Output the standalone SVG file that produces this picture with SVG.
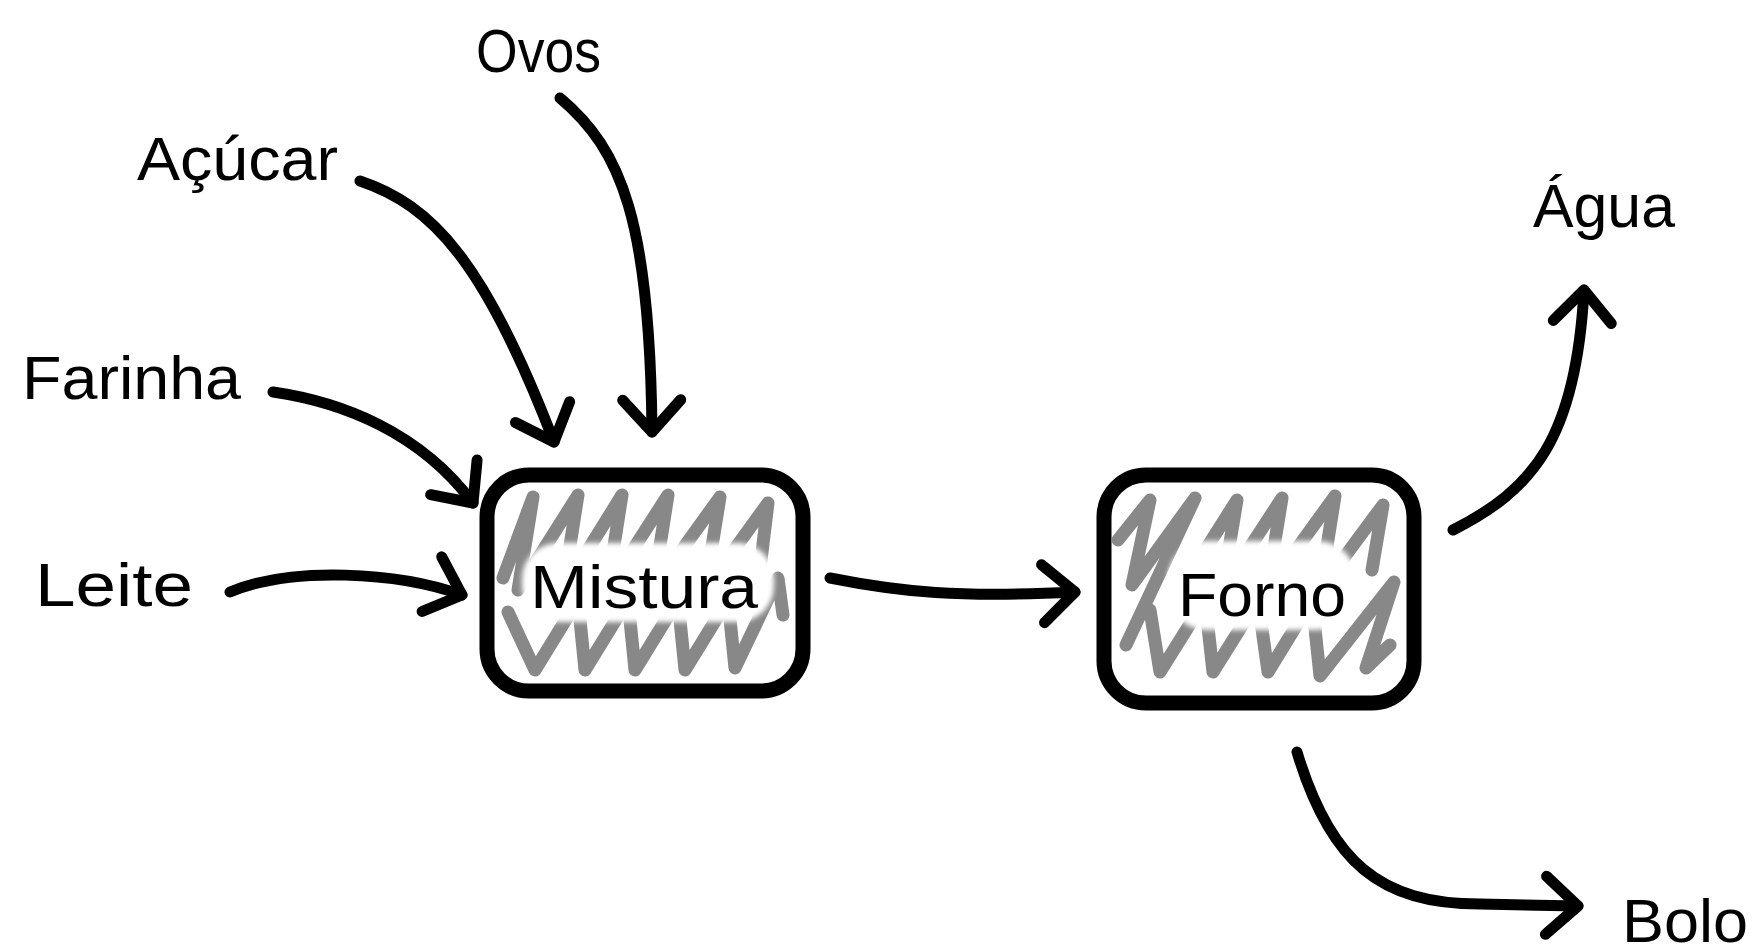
<svg xmlns="http://www.w3.org/2000/svg" width="1755" height="952" viewBox="0 0 1755 952">
<defs>
<style>
.lbl{font-family:"Liberation Sans",Arial,sans-serif;font-size:62px;fill:#000}
.box{fill:#fff;stroke:#000;stroke-width:15}
.hatch{fill:none;stroke:#888;stroke-width:13;stroke-linecap:round;stroke-linejoin:round}
.blob{fill:#fff;filter:url(#soft)}
.con{fill:none;stroke:#000;stroke-width:11;stroke-linecap:round;stroke-linejoin:round}
</style>
<filter id="soft" x="-10%" y="-20%" width="120%" height="140%"><feGaussianBlur stdDeviation="2.5"/></filter>
<marker id="ah" markerUnits="userSpaceOnUse" orient="auto" markerWidth="100" markerHeight="100" refX="0" refY="0" viewBox="-50 -50 100 100" overflow="visible">
<path d="M-32,-29 L0,0 L-32,29" fill="none" stroke="#000" stroke-width="11" stroke-linecap="round" stroke-linejoin="round"/>
</marker>
</defs>
<rect width="1755" height="952" fill="#fff"/>

<g id="connectors">
<path class="con" d="M560,98 C622,150 650,222 652,432" marker-end="url(#ah)"/>
<path class="con" d="M360,181 C432,205 485,262 554,442" marker-end="url(#ah)"/>
<path class="con" d="M273,392 C342,402 420,432 473,503" marker-end="url(#ah)"/>
<path class="con" d="M230,592 C292,566 398,572 462,595" marker-end="url(#ah)"/>
<path class="con" d="M830,578 C900,592 960,598 1075,592" marker-end="url(#ah)"/>
<path class="con" d="M1453,530 C1532,490 1576,440 1584,290" marker-end="url(#ah)"/>
<path class="con" d="M1297,752 C1330,862 1380,904 1480,904 L1578,906" marker-end="url(#ah)"/>
</g>

<g id="mistura">
<rect class="box" x="487" y="475" width="316" height="216" rx="42"/>
<path class="hatch" d="M503,578 L533,497 L518,590 L578,495 L563,590 L622,495 L607,590 L668,495 L653,590 L720,497 L705,590 L768,503 L758,585"/>
<path class="hatch" d="M508,612 L535,670 L578,600 L585,670 L628,600 L635,670 L678,600 L685,670 L728,600 L735,668 L778,578 L783,615"/>
<rect class="blob" x="522" y="543" width="252" height="79" rx="36"/>
<text class="lbl" x="530" y="608" textLength="228" lengthAdjust="spacingAndGlyphs">Mistura</text>
</g>

<g id="forno">
<rect class="box" x="1104" y="475" width="310" height="228" rx="42"/>
<path class="hatch" d="M1118,540 L1150,500 L1132,585 L1195,498 L1126,645"/>
<path class="hatch" d="M1180,590 L1237,500 L1222,590 L1282,498 L1267,590 L1335,496 L1320,590 L1383,505 L1372,570"/>
<path class="hatch" d="M1150,610 L1160,672 L1205,600 L1213,672 L1258,600 L1268,672 L1312,600 L1320,676 L1394,582 L1366,668 L1390,645"/>
<rect class="blob" x="1168" y="541" width="188" height="89" rx="38"/>
<text class="lbl" x="1178" y="616" textLength="168" lengthAdjust="spacingAndGlyphs">Forno</text>
</g>

<g id="ovos"><text class="lbl" x="476" y="72" textLength="125" lengthAdjust="spacingAndGlyphs">Ovos</text></g>
<g id="acucar"><text class="lbl" x="137" y="180" textLength="201" lengthAdjust="spacingAndGlyphs">Açúcar</text></g>
<g id="farinha"><text class="lbl" x="22" y="399" textLength="219" lengthAdjust="spacingAndGlyphs">Farinha</text></g>
<g id="leite"><text class="lbl" x="35" y="606" textLength="158" lengthAdjust="spacingAndGlyphs">Leite</text></g>
<g id="agua"><text class="lbl" x="1533" y="227" textLength="142" lengthAdjust="spacingAndGlyphs">Água</text></g>
<g id="bolo"><text class="lbl" x="1622" y="942" textLength="126" lengthAdjust="spacingAndGlyphs">Bolo</text></g>
</svg>
